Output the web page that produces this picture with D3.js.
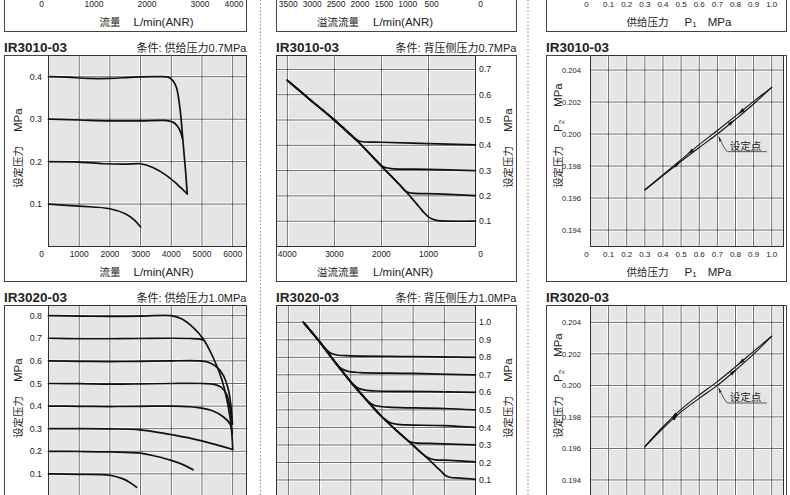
<!DOCTYPE html>
<html><head><meta charset="utf-8">
<script src="https://cdn.jsdelivr.net/npm/d3@7/dist/d3.min.js"></script>
<style>
html,body{margin:0;padding:0;background:#fff;}
svg{display:block;}
text{font-family:"Liberation Sans",Arial,"Noto Sans CJK SC",sans-serif;fill:#222;}
</style></head><body>
<svg id="chart" width="790" height="495"></svg>
<script>
// ===== tick label lists =====
const topFlowTicks = [0, 1000, 2000, 3000, 4000];
const topReliefTicks = [3500, 3000, 2500, 2000, 1500, 1000, 500, 0];
const supplyTicks = [0, 0.1, 0.2, 0.3, 0.4, 0.5, 0.6, 0.7, 0.8, 0.9, 1.0];
const flowTicks = [0, 1000, 2000, 3000, 4000, 5000, 6000];
const reliefTicks3010 = [4000, 3000, 2000, 1000, 0];
const reliefGrid3020 = [6000, 5000, 4000, 3000, 2000, 1000];
const setTicks3010 = [0.1, 0.2, 0.3, 0.4];
const backTicks3010 = [0.1, 0.2, 0.3, 0.4, 0.5, 0.6, 0.7];
const setTicks3020 = [0.1, 0.2, 0.3, 0.4, 0.5, 0.6, 0.7, 0.8];
const backTicks3020 = [0.1, 0.2, 0.3, 0.4, 0.5, 0.6, 0.7, 0.8, 0.9, 1.0];
const p2Ticks = [0.194, 0.196, 0.198, 0.200, 0.202, 0.204];

// ===== IR3010-03 flow characteristics (supply 0.7 MPa) =====
const flow3010_04 = [[0,0.400],[600,0.399],[1300,0.396],[2000,0.396],[2800,0.399],[3500,0.400],[3900,0.399],[4060,0.390],[4170,0.374],[4280,0.327],[4390,0.240],[4475,0.169],[4520,0.124]];
const flow3010_03 = [[0,0.300],[1000,0.298],[2000,0.296],[3000,0.296],[3800,0.297],[4050,0.293],[4200,0.284],[4300,0.270],[4360,0.255]];
const flow3010_02 = [[0,0.200],[1000,0.199],[1800,0.195],[2500,0.194],[3000,0.195],[3400,0.186],[3850,0.167],[4200,0.146],[4520,0.124]];
const flow3010_01 = [[0,0.100],[1000,0.095],[2000,0.089],[2500,0.077],[2800,0.062],[3000,0.046]];

// ===== IR3010-03 relief characteristics (back pressure 0.7 MPa) =====
const relief3010Envelope = [[4000,0.657],[3500,0.578],[3000,0.500],[2500,0.415],[2000,0.318],[1500,0.222],[1200,0.157]];
const relief3010Branch04 = [[2650,0.440],[2500,0.419],[2400,0.414],[2000,0.412],[1000,0.407],[0,0.402]];
const relief3010Branch03 = [[2100,0.337],[1950,0.314],[1800,0.308],[1000,0.305],[0,0.300]];
const relief3010Branch02 = [[1600,0.241],[1480,0.217],[1350,0.211],[800,0.208],[0,0.201]];
const relief3010Branch01 = [[1100,0.135],[980,0.114],[850,0.104],[700,0.101],[0,0.100]];

// ===== IR3010-03 pressure characteristics =====
const reg3010Rise = [[0.3,0.19650],[0.4,0.19740],[0.5,0.19830],[0.6,0.19916],[0.7,0.20000],[0.8,0.20092],[0.9,0.20188],[1.0,0.20292]];
const reg3010Fall = [[1.0,0.20292],[0.9,0.20204],[0.8,0.20112],[0.7,0.20022],[0.6,0.19934],[0.5,0.19840],[0.4,0.19746],[0.3,0.19652]];
const reg3010RiseArrows = [0.48, 0.78];
const reg3010FallArrows = [0.55, 0.83];

// ===== IR3020-03 flow characteristics (supply 1.0 MPa) =====
const flow3020_08 = [[0,0.800],[1000,0.798],[2000,0.797],[3000,0.798],[4000,0.800],[4330,0.786],[4710,0.748],[5040,0.697],[5360,0.616],[5640,0.520],[5850,0.402],[5960,0.299],[6000,0.210]];
const flow3020_07 = [[0,0.700],[1000,0.698],[2000,0.698],[3000,0.699],[4000,0.700],[4600,0.699],[4900,0.697],[5060,0.692]];
const flow3020_06 = [[0,0.600],[1000,0.598],[2000,0.597],[3000,0.598],[4000,0.600],[4900,0.600],[5200,0.594],[5470,0.574],[5690,0.537],[5850,0.478],[5940,0.405],[5990,0.320]];
const flow3020_05 = [[0,0.500],[1000,0.499],[2000,0.497],[3000,0.498],[4000,0.500],[5000,0.500],[5400,0.496],[5620,0.484],[5800,0.452],[5920,0.385],[5990,0.320]];
const flow3020_04 = [[0,0.400],[1000,0.399],[2000,0.398],[3000,0.399],[4000,0.400],[4600,0.397],[4930,0.392],[5360,0.378],[5690,0.353],[5910,0.322],[5990,0.280]];
const flow3020_03 = [[0,0.300],[1000,0.300],[2000,0.299],[2980,0.295],[3850,0.277],[4710,0.255],[5360,0.233],[6000,0.208]];
const flow3020_02 = [[0,0.200],[1000,0.199],[2000,0.197],[3000,0.192],[3500,0.178],[4000,0.160],[4400,0.140],[4710,0.118]];
const flow3020_01 = [[0,0.100],[1000,0.098],[2000,0.094],[2430,0.078],[2650,0.062],[2870,0.041]];

// ===== IR3020-03 relief characteristics (back pressure 1.0 MPa) =====
const relief3020Envelope = [[5520,1.000],[5000,0.889],[4500,0.772],[4000,0.660],[3500,0.558],[3000,0.461],[2500,0.377],[2000,0.298],[1500,0.217],[1200,0.166]];
const relief3020Branch08 = [[4850,0.857],[4650,0.825],[4400,0.812],[4000,0.809],[2000,0.805],[0,0.800]];
const relief3020Branch07 = [[4400,0.750],[4200,0.727],[4000,0.717],[3700,0.713],[2000,0.708],[0,0.700]];
const relief3020Branch06 = [[3950,0.650],[3750,0.623],[3500,0.611],[3200,0.608],[1500,0.605],[0,0.600]];
const relief3020Branch05 = [[3450,0.548],[3250,0.527],[3000,0.518],[2700,0.515],[1000,0.508],[0,0.500]];
const relief3020Branch04 = [[2950,0.453],[2750,0.428],[2500,0.417],[2200,0.414],[1000,0.410],[0,0.400]];
const relief3020Branch03 = [[2300,0.345],[2100,0.318],[1850,0.310],[1500,0.309],[0,0.300]];
const relief3020Branch02 = [[1700,0.249],[1500,0.225],[1300,0.215],[1000,0.213],[0,0.203]];
const relief3020Branch01 = [[1100,0.149],[950,0.124],[800,0.114],[500,0.111],[0,0.104]];

// ===== IR3020-03 pressure characteristics =====
const reg3020Rise = [[0.3,0.19610],[0.4,0.19728],[0.5,0.19832],[0.6,0.19918],[0.7,0.20000],[0.8,0.20096],[0.9,0.20198],[1.0,0.20312]];
const reg3020Fall = [[1.0,0.20312],[0.9,0.20216],[0.8,0.20118],[0.7,0.20024],[0.6,0.19940],[0.5,0.19848],[0.4,0.19738],[0.3,0.19612]];
const reg3020RiseArrows = [0.47, 0.79];
const reg3020FallArrows = [0.46, 0.83];
const setPoint = [0.7, 0.200];

// ===== layout =====
const svg = d3.select('#chart');
const COL = {
  L:{fx0:4.5, fx1:246.5, px0:48.5, px1:246.5, zero:c=>c.px0-7, yLabX:-6.5, yRight:false, yTitleX:16.5, xTitleX:51},
  M:{fx0:276.5, fx1:516.5, px0:276.5, px1:475.5, zero:c=>c.px1+5, yLabX:3.5, yRight:true, yTitleX:506.5, xTitleX:40.5},
  R:{fx0:546.5, fx1:786.5, px0:590.5, px1:783.5, zero:c=>c.px0-4, yLabX:-9.5, yRight:false, yTitleX:556.5, xTitleX:36}
};
const ROW = [-194.5, 55.5, 305.5];
const PLOT_H = 191, FRAME_H = 226;
const isCJK = s => /[\u3000-\u9fff\uff00-\uffef]/.test(s);

function branch(env, br){ return env.filter(p => p[0] > br[0][0]).concat(br); }

function addParts(text, parts, base){
  let pendingUp = 0;
  parts.forEach(pt => {
    const ts = text.append('tspan').text(pt.t)
      .attr('font-size', pt.sub ? 8 : (isCJK(pt.t) ? base-0.5 : base+0.5));
    if (pt.dx) ts.attr('dx', pt.dx);
    if (pt.sub){ ts.attr('dy', 1.5); pendingUp = -1.5; }
    else if (pendingUp){ ts.attr('dy', pendingUp); pendingUp = 0; }
  });
}

function drawPanel(p){
  const c = COL[p.col], top = ROW[p.row], bot = top + PLOT_H;
  const g = svg.append('g');
  g.append('rect').attr('x', c.fx0).attr('y', top).attr('width', c.fx1-c.fx0).attr('height', FRAME_H)
    .attr('fill', '#fff').attr('stroke', '#444').attr('stroke-width', 1);
  if (p.x && p.y){
    g.append('rect').attr('x', c.px0).attr('y', top).attr('width', c.px1-c.px0).attr('height', PLOT_H)
      .attr('fill', '#e5e5e5');
    const grid = g.append('g');
    const gl = [];
    (p.xGrid||[]).forEach(v => gl.push([p.x(v), top, p.x(v), bot]));
    (p.yGrid||[]).forEach(v => gl.push([c.px0, p.y(v), c.px1, p.y(v)]));
    grid.selectAll('line.w').data(gl).join('line').attr('class','w')
      .attr('x1',d=>d[0]).attr('y1',d=>d[1]).attr('x2',d=>d[2]).attr('y2',d=>d[3])
      .attr('stroke','#fff').attr('stroke-width',3);
    grid.selectAll('line.k').data(gl).join('line').attr('class','k')
      .attr('x1',d=>d[0]).attr('y1',d=>d[1]).attr('x2',d=>d[2]).attr('y2',d=>d[3])
      .attr('stroke','#555').attr('stroke-width',0.9);
    g.append('rect').attr('x', c.px0).attr('y', top).attr('width', c.px1-c.px0).attr('height', PLOT_H)
      .attr('fill', 'none').attr('stroke', '#333').attr('stroke-width', 1);
    const line = d3.line().x(d=>p.x(d[0])).y(d=>p.y(d[1])).curve(d3.curveCatmullRom.alpha(0.5));
    g.append('g').selectAll('path').data(p.series||[]).join('path')
      .attr('d', line).attr('fill','none').attr('stroke','#111')
      .attr('stroke-width', p.lw || 1.7).attr('stroke-linejoin','round').attr('stroke-linecap','round');
    // arrows
    (p.arrows||[]).forEach(a => {
      const s = a.series;
      for (let i=0;i<s.length-1;i++){
        const A=s[i], B=s[i+1];
        if ((a.at-A[0])*(a.at-B[0]) <= 0){
          const t=(a.at-A[0])/(B[0]-A[0]);
          const px=p.x(A[0]+t*(B[0]-A[0])), py=p.y(A[1]+t*(B[1]-A[1]));
          let dx=p.x(B[0])-p.x(A[0]), dy=p.y(B[1])-p.y(A[1]); const L=Math.hypot(dx,dy); dx/=L; dy/=L;
          const nx=-dy, ny=dx;
          g.append('path').attr('d', `M${px+dx*3.5},${py+dy*3.5}L${px-dx*3.5+nx*1.8},${py-dy*3.5+ny*1.8}L${px-dx*3.5-nx*1.8},${py-dy*3.5-ny*1.8}Z`)
            .attr('fill','#111');
          break;
        }
      }
    });
    if (p.setPoint){
      const sx = p.x(p.setPoint[0]) + 1.3, sy = p.y(p.setPoint[1]) + 2.6;
      g.append('path').attr('d', `M${sx},${sy}L${sx+5},${sy+10}L${sx+8.5},${sy+15}L${sx+48},${sy+15}`)
        .attr('fill','none').attr('stroke','#333').attr('stroke-width',0.8);
      g.append('path').attr('d', `M${sx},${sy}L${sx+0.6},${sy+5}L${sx+3},${sy+3.8}Z`).attr('fill','#222');
      g.append('text').attr('x', sx+11).attr('y', sy+13.2).attr('font-size', 10.5).attr('fill','#333').text('设定点');
    }
  }
  // x tick labels
  (p.xTicks||[]).forEach(v => {
    const xp = v===0 ? c.zero(c) : Math.min(p.xl(v), c.fx1 - 12.5);
    g.append('text').attr('x', xp).attr('y', bot + 10.5).attr('text-anchor','middle')
      .attr('font-size', p.tickSize || 8.5).attr('fill','#222').text(p.xFmt(v));
  });
  // y tick labels
  (p.yTicks||[]).forEach(v => {
    g.append('text').attr('x', c.yRight ? c.px1 + c.yLabX : c.px0 + c.yLabX).attr('y', p.y(v)).attr('dy','0.35em')
      .attr('text-anchor', c.yRight ? 'start':'end').attr('font-size', p.yTickSize || 8.8).attr('fill','#222')
      .text(p.yFmt(v));
  });
  // axis titles
  if (p.xTitle){
    const t = g.append('text').attr('x', c.px0 + c.xTitleX).attr('y', top + 220).attr('fill','#222');
    addParts(t, p.xTitle, 11);
  }
  if (p.yTitle){
    const t = g.append('text').attr('transform', `translate(${c.yTitleX},${top+132.5}) rotate(-90)`)
      .attr('dy','0.36em').attr('fill','#222');
    addParts(t, p.yTitle, 11);
  }
  if (p.title){
    g.append('text').attr('x', c.fx0 - 0.5).attr('y', top - 4).attr('font-size', 13.5).attr('font-weight','bold')
      .attr('fill','#111').text(p.title);
  }
  if (p.cond){
    g.append('text').attr('x', c.fx1).attr('y', top - 4).attr('text-anchor','end').attr('font-size', 11)
      .attr('fill','#333').text(p.cond);
  }
}

// separators
[260.5, 528].forEach(xv => svg.append('line').attr('x1',xv).attr('x2',xv).attr('y1',0).attr('y2',495)
  .attr('stroke','#888').attr('stroke-width',1.2).attr('stroke-dasharray','1.3,2.2'));

const fmtInt = d3.format('d'), fmt1 = d3.format('.1f'), fmt3 = d3.format('.3f');
const fmtSupply = v => v===0 ? '0' : fmt1(v);
const xFlow = d3.scaleLinear().domain([0,6450]).range([48.5,246.5]);
const xRelief3010 = d3.scaleLinear().domain([4230,0]).range([276.5,475.5]);
const xSupply = d3.scaleLinear().domain([0,1.065]).range([590.5,783.5]);
const xRelief3020 = d3.scaleLinear().domain([6380,0]).range([276.5,475.5]);
const xTopFlow = d3.scaleLinear().domain([1000,3000]).range([94,200]);
const xTopRelief = d3.scaleLinear().domain([3500,500]).range([288.3,431.7]);

const flowTitle = [{t:'流量'},{t:'L/min(ANR)',dx:13}];
const reliefTitle = [{t:'溢流流量'},{t:'L/min(ANR)',dx:14}];
const supplyTitle = [{t:'供给压力'},{t:'P',dx:16},{t:'1',sub:true},{t:'MPa',dx:11}];
const setTitle = [{t:'设定压力'},{t:'MPa',dx:14}];
const p2Title = [{t:'设定压力'},{t:'P',dx:14},{t:'2',sub:true},{t:'MPa',dx:13}];

// top row (cut off)
drawPanel({col:'L', row:0, xTicks:topFlowTicks, xl:xTopFlow, xFmt:fmtInt, xTitle:flowTitle});
drawPanel({col:'M', row:0, xTicks:topReliefTicks, xl:xTopRelief, xFmt:fmtInt, xTitle:reliefTitle});
drawPanel({col:'R', row:0, xTicks:supplyTicks, xl:xSupply, xFmt:fmtSupply, xTitle:supplyTitle, tickSize:8});

// middle row IR3010-03
drawPanel({col:'L', row:1, title:'IR3010-03', cond:'条件: 供给压力0.7MPa',
  x:xFlow, xl:xFlow, y:d3.scaleLinear().domain([0,0.45]).range([246.5,55.5]),
  xGrid:flowTicks.slice(1), yGrid:setTicks3010, xTicks:flowTicks, xFmt:fmtInt, yTicks:setTicks3010, yFmt:fmt1,
  series:[flow3010_04, flow3010_03, flow3010_02, flow3010_01], xTitle:flowTitle, yTitle:setTitle});
drawPanel({col:'M', row:1, title:'IR3010-03', cond:'条件: 背压侧压力0.7MPa',
  x:xRelief3010, xl:xRelief3010, y:d3.scaleLinear().domain([0,0.755]).range([246.5,55.5]),
  xGrid:reliefTicks3010.slice(0,-1), yGrid:backTicks3010, xTicks:reliefTicks3010, xFmt:fmtInt, yTicks:backTicks3010, yFmt:fmt1,
  series:[branch(relief3010Envelope,relief3010Branch04), branch(relief3010Envelope,relief3010Branch03),
          branch(relief3010Envelope,relief3010Branch02), branch(relief3010Envelope,relief3010Branch01)],
  xTitle:reliefTitle, yTitle:setTitle});
drawPanel({col:'R', row:1, title:'IR3010-03',
  x:xSupply, xl:xSupply, y:d3.scaleLinear().domain([0.19297,0.20491]).range([246.5,55.5]),
  xGrid:supplyTicks.slice(1), yGrid:p2Ticks, xTicks:supplyTicks, xFmt:fmtSupply, yTicks:p2Ticks, yFmt:fmt3,
  tickSize:8, yTickSize:7.6, lw:1.1,
  series:[reg3010Rise, reg3010Fall],
  arrows:reg3010RiseArrows.map(a=>({series:reg3010Rise, at:a})).concat(reg3010FallArrows.map(a=>({series:reg3010Fall, at:a}))),
  setPoint:setPoint, xTitle:supplyTitle, yTitle:p2Title});

// bottom row IR3020-03
drawPanel({col:'L', row:2, title:'IR3020-03', cond:'条件: 供给压力1.0MPa',
  x:xFlow, xl:xFlow, y:d3.scaleLinear().domain([0,0.845]).range([496.5,305.5]),
  xGrid:flowTicks.slice(1), yGrid:setTicks3020, yTicks:setTicks3020, yFmt:fmt1,
  series:[flow3020_08, flow3020_07, flow3020_06, flow3020_05, flow3020_04, flow3020_03, flow3020_02, flow3020_01],
  yTitle:setTitle});
drawPanel({col:'M', row:2, title:'IR3020-03', cond:'条件: 背压侧压力1.0MPa',
  x:xRelief3020, xl:xRelief3020, y:d3.scaleLinear().domain([0,1.096]).range([497.5,305.5]),
  xGrid:reliefGrid3020, yGrid:backTicks3020, yTicks:backTicks3020, yFmt:fmt1,
  series:[relief3020Branch08, relief3020Branch07, relief3020Branch06, relief3020Branch05,
          relief3020Branch04, relief3020Branch03, relief3020Branch02, relief3020Branch01].map(b=>branch(relief3020Envelope,b)),
  yTitle:setTitle});
drawPanel({col:'R', row:2, title:'IR3020-03',
  x:xSupply, xl:xSupply, y:d3.scaleLinear().domain([0.19295,0.20507]).range([496.5,305.5]),
  xGrid:supplyTicks.slice(1), yGrid:p2Ticks, yTicks:p2Ticks, yFmt:fmt3, yTickSize:7.6, lw:1.1,
  series:[reg3020Rise, reg3020Fall],
  arrows:reg3020RiseArrows.map(a=>({series:reg3020Rise, at:a})).concat(reg3020FallArrows.map(a=>({series:reg3020Fall, at:a}))),
  setPoint:setPoint, yTitle:p2Title});
</script>
</body></html>
